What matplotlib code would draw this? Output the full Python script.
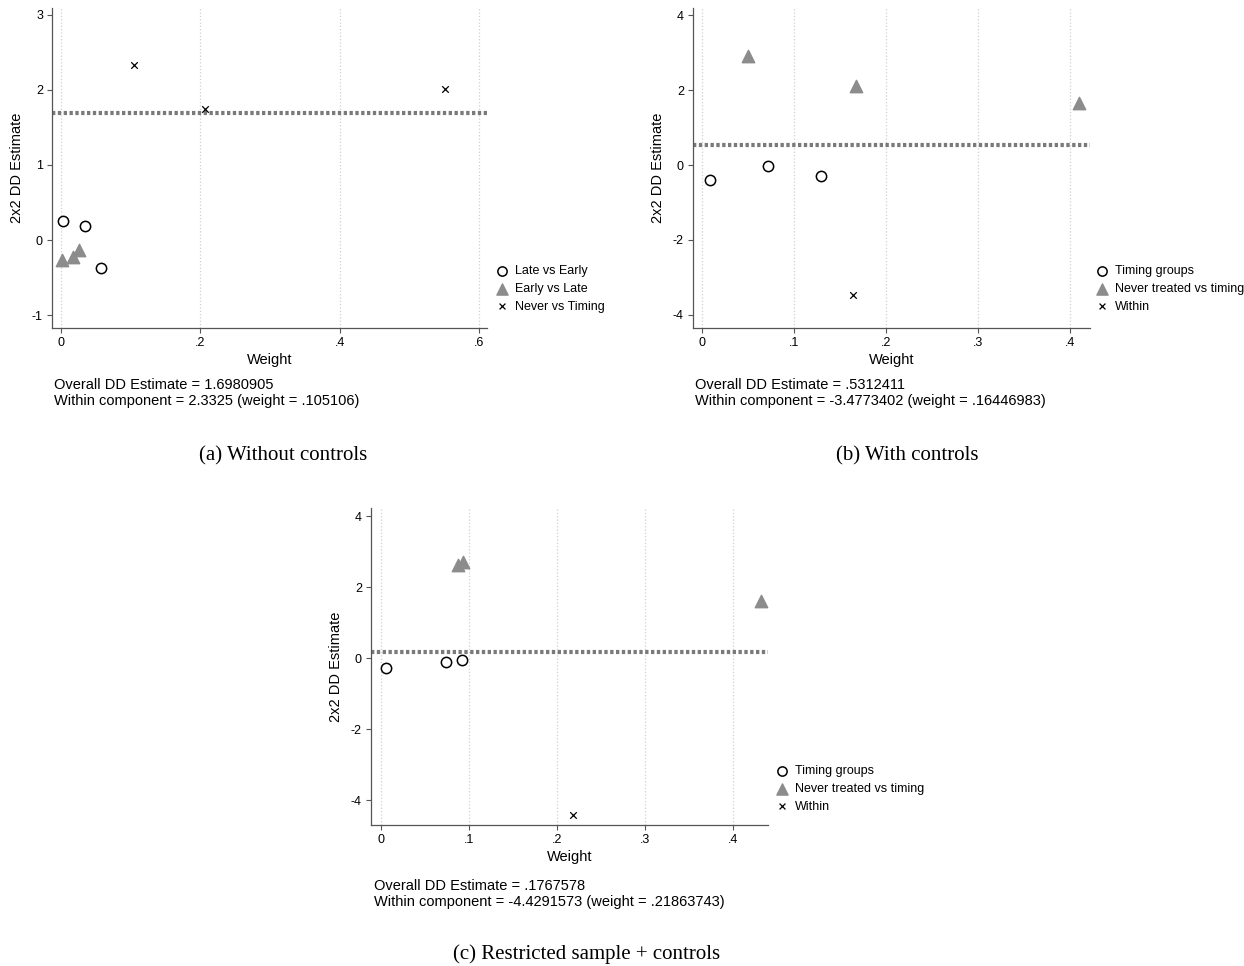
import matplotlib
matplotlib.use("Agg")
import matplotlib.pyplot as plt

plt.rcParams['font.family'] = ['Liberation Sans', 'DejaVu Sans']

# panel (a): without controls
a_late_w = [0.003, 0.035, 0.057]
a_late_y = [0.25, 0.19, -0.37]
a_early_w = [0.002, 0.017, 0.026]
a_early_y = [-0.26, -0.22, -0.13]
a_never_w = [0.105106, 0.207, 0.551]
a_never_y = [2.3325, 1.75, 2.01]
a_overall = 1.6980905

# panel (b): with controls
b_timing_w = [0.009, 0.072, 0.129]
b_timing_y = [-0.41, -0.02, -0.30]
b_never_w = [0.050, 0.167, 0.410]
b_never_y = [2.90, 2.10, 1.65]
b_within_w = [0.16446983]
b_within_y = [-3.4773402]
b_overall = 0.5312411

# panel (c): restricted sample + controls
c_timing_w = [0.006, 0.074, 0.092]
c_timing_y = [-0.27, -0.12, -0.06]
c_never_w = [0.087, 0.093, 0.432]
c_never_y = [2.62, 2.70, 1.62]
c_within_w = [0.21863743]
c_within_y = [-4.4291573]
c_overall = 0.1767578

a_xticks = [0, 0.2, 0.4, 0.6]
a_xlabels = ['0', '.2', '.4', '.6']
a_yticks = [-1, 0, 1, 2, 3]
bc_xticks = [0, 0.1, 0.2, 0.3, 0.4]
bc_xlabels = ['0', '.1', '.2', '.3', '.4']
bc_yticks = [-4, -2, 0, 2, 4]

a_labels = ['Late vs Early', 'Early vs Late', 'Never vs Timing']
bc_labels = ['Timing groups', 'Never treated vs timing', 'Within']

a_notes = ['Overall DD Estimate = 1.6980905',
           'Within component = 2.3325 (weight = .105106)']
b_notes = ['Overall DD Estimate = .5312411',
           'Within component = -3.4773402 (weight = .16446983)']
c_notes = ['Overall DD Estimate = .1767578',
           'Within component = -4.4291573 (weight = .21863743)']

captions = ['(a) Without controls', '(b) With controls',
            '(c) Restricted sample + controls']

W, H = 1244, 966
fig = plt.figure(figsize=(W / 100, H / 100), dpi=100)


def px(x0, y0, x1, y1):
    # pixel box -> figure fraction rect
    return [x0 / W, 1 - y1 / H, (x1 - x0) / W, (y1 - y0) / H]


def panel(rect, xlim, ylim, xticks, xlabels, yticks, series, labels, overall,
          leg_xy, notes_xy, notes, cap_xy, cap):
    ax = fig.add_axes(rect)
    (w1, y1), (w2, y2), (w3, y3) = series
    h1 = ax.scatter(w1, y1, s=55, facecolors='white', edgecolors='black',
                    linewidths=1.1, marker='o', zorder=3)
    h2 = ax.scatter(w2, y2, s=80, color='#8c8c8c', marker='^', zorder=3)
    h3 = ax.scatter(w3, y3, s=22, color='black', marker='x', linewidths=0.9,
                    zorder=3)
    ax.axhline(overall, color='#7a7a7a', linestyle=(0, (0.8, 0.6)),
               linewidth=3, zorder=2)
    ax.set_xlim(*xlim)
    ax.set_ylim(*ylim)
    ax.set_xticks(xticks)
    ax.set_xticklabels(xlabels)
    ax.set_yticks(yticks)
    ax.set_yticklabels([str(t) for t in yticks])
    ax.grid(axis='x', color='#d0d0d0', linestyle=':', linewidth=0.9)
    ax.set_axisbelow(True)
    for s in ['top', 'right']:
        ax.spines[s].set_visible(False)
    for s in ['left', 'bottom']:
        ax.spines[s].set_color('#555555')
        ax.spines[s].set_linewidth(0.9)
    ax.tick_params(colors='#555555', labelcolor='black', labelsize=9,
                   length=3.5, width=0.8, pad=3)
    ax.set_xlabel('Weight', fontsize=10.5, labelpad=3)
    ax.set_ylabel('2x2 DD Estimate', fontsize=10.5, labelpad=6)
    fig.legend([h1, h2, h3], labels, loc='center left',
               bbox_to_anchor=(leg_xy[0] / W, 1 - leg_xy[1] / H),
               frameon=False, fontsize=9, handlelength=1.0,
               handletextpad=0.5, labelspacing=0.45, borderaxespad=0,
               borderpad=0, markerscale=0.9)
    fig.text(notes_xy[0] / W, 1 - notes_xy[1] / H, notes[0], fontsize=10.5,
             va='center', ha='left')
    fig.text(notes_xy[0] / W, 1 - (notes_xy[1] + 16) / H, notes[1],
             fontsize=10.5, va='center', ha='left')
    fig.text(cap_xy[0] / W, 1 - cap_xy[1] / H, cap, fontsize=15,
             family=['Liberation Serif', 'DejaVu Serif'],
             va='center', ha='center')
    return ax


panel(px(52, 8, 487, 328), (-0.013, 0.611), (-1.17, 3.09),
      a_xticks, a_xlabels, a_yticks,
      [(a_late_w, a_late_y), (a_early_w, a_early_y), (a_never_w, a_never_y)],
      a_labels, a_overall, (496, 289), (54, 385), a_notes, (283, 456),
      captions[0])

panel(px(693, 8, 1090, 328), (-0.0098, 0.4217), (-4.35, 4.19),
      bc_xticks, bc_xlabels, bc_yticks,
      [(b_timing_w, b_timing_y), (b_never_w, b_never_y),
       (b_within_w, b_within_y)],
      bc_labels, b_overall, (1096, 289), (695, 385), b_notes, (907, 456),
      captions[1])

panel(px(371, 508, 768, 825), (-0.0114, 0.4398), (-4.7, 4.23),
      bc_xticks, bc_xlabels, bc_yticks,
      [(c_timing_w, c_timing_y), (c_never_w, c_never_y),
       (c_within_w, c_within_y)],
      bc_labels, c_overall, (776, 789), (374, 886), c_notes, (587, 954),
      captions[2])

fig.savefig('out.png', dpi=100)
